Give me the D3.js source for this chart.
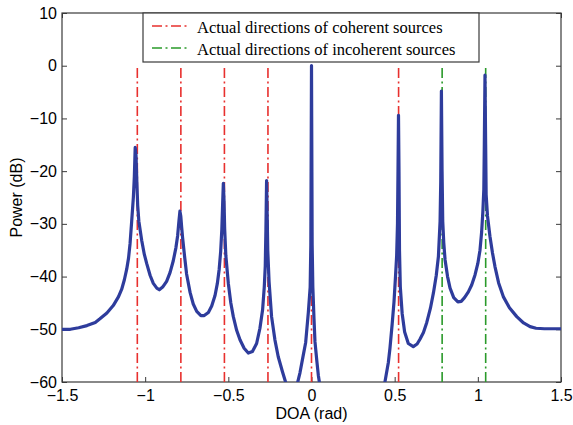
<!DOCTYPE html>
<html>
<head>
<meta charset="utf-8">
<script src="https://cdn.jsdelivr.net/npm/d3@7"></script>
<style>
  html, body { margin: 0; padding: 0; background: #fff; }
  svg { display: block; }
</style>
</head>
<body>
<svg id="chart" width="573" height="425"></svg>
<script>
// ---- data ----
const xTicks = [-1.5, -1, -0.5, 0, 0.5, 1, 1.5];
const yTicks = [-60, -50, -40, -30, -20, -10, 0, 10];
const coherentDOA = [-1.0472, -0.7854, -0.5236, -0.2618, 0, 0.5236];
const incoherentDOA = [0.7854, 1.0472];
const lineTopDB = 0;
const legendLabels = ["Actual directions of coherent sources", "Actual directions of incoherent sources"];

const doaGrid = [
  -1.50, -1.45, -1.40, -1.35, -1.30, -1.272, -1.23, -1.192, -1.16, -1.141, -1.125, -1.111, -1.10, -1.091, -1.081, -1.071, -1.065, -1.060, -1.055, -1.050, -1.045, -1.038, -1.021, -1.005, -0.991, -0.97, -0.951, -0.93, -0.915, -0.895, -0.871, -0.85, -0.831, -0.815, -0.805, -0.797, -0.791, -0.786, -0.781, -0.775, -0.763, -0.751, -0.73, -0.711, -0.69, -0.665, -0.645, -0.62, -0.600, -0.58, -0.566, -0.555, -0.546, -0.539, -0.534, -0.530, -0.526, -0.522, -0.515, -0.500, -0.485, -0.470, -0.45, -0.430, -0.405, -0.380, -0.355, -0.330, -0.31, -0.294, -0.284, -0.278, -0.274, -0.270, -0.266, -0.263, -0.255, -0.240, -0.220, -0.200, -0.175, -0.153, -0.12, -0.10, -0.085, -0.069, -0.050, -0.035, -0.019, -0.008, -0.004, 0.0, 0.004, 0.008, 0.015, 0.021, 0.032, 0.041, 0.052, 0.25, 0.43, 0.442, 0.462, 0.472, 0.485, 0.496, 0.505, 0.512, 0.517, 0.520, 0.523, 0.526, 0.529, 0.534, 0.545, 0.560, 0.582, 0.612, 0.635, 0.652, 0.673, 0.693, 0.715, 0.733, 0.750, 0.763, 0.773, 0.777, 0.781, 0.785, 0.789, 0.795, 0.803, 0.818, 0.833, 0.855, 0.880, 0.900, 0.920, 0.943, 0.963, 0.983, 1.000, 1.013, 1.023, 1.030, 1.036, 1.039, 1.043, 1.047, 1.050, 1.058, 1.073, 1.088, 1.103, 1.125, 1.153, 1.19, 1.234, 1.275, 1.314, 1.35, 1.40, 1.50
];
const powerDB = [
  -50.0, -50.0, -49.7, -49.3, -48.7, -48.0, -46.9, -45.5, -43.8, -42.4, -40.6, -38.6, -36.5, -33.8, -29.5, -25.0, -21.0, -15.5, -17.0, -22.0, -26.5, -29.5, -33.1, -35.8, -37.5, -39.8, -41.3, -42.2, -42.5, -42.0, -40.9, -39.2, -37.0, -34.5, -32.3, -29.5, -27.6, -28.5, -30.5, -32.6, -36.2, -39.5, -43.0, -45.2, -46.6, -47.4, -47.4, -46.8, -45.6, -43.6, -41.3, -38.6, -35.2, -31.0, -26.0, -22.3, -25.5, -31.0, -36.0, -41.3, -45.0, -47.6, -50.2, -52.0, -53.6, -54.5, -54.2, -52.7, -49.8, -46.3, -42.0, -38.0, -31.0, -21.8, -29.0, -35.0, -41.0, -47.6, -52.0, -55.2, -58.0, -60.3, -64.0, -63.0, -60.3, -58.2, -55.0, -52.5, -46.8, -42.0, -34.0, 0.0, -34.0, -42.0, -48.0, -52.4, -56.0, -58.7, -61.0, -75.0, -62.0, -59.9, -56.3, -53.5, -49.0, -44.8, -40.0, -36.0, -30.0, -20.0, -9.4, -20.0, -35.0, -42.0, -47.0, -50.5, -52.7, -53.3, -52.8, -51.9, -50.6, -48.7, -46.0, -43.1, -39.8, -36.2, -29.5, -22.0, -4.8, -20.0, -29.5, -33.5, -36.8, -40.0, -42.2, -44.0, -44.8, -44.7, -44.0, -42.9, -41.6, -39.7, -37.5, -35.0, -31.5, -27.8, -23.5, -15.0, -1.8, -15.0, -24.5, -28.5, -32.4, -35.5, -38.1, -41.2, -43.8, -45.9, -47.6, -48.8, -49.5, -49.8, -49.9, -49.9
];

// ---- layout ----
const svg = d3.select("#chart");
const L = 62, T = 13, R = 561, B = 382;
const x = d3.scaleLinear().domain([-1.5, 1.5]).range([L, R]);
const y = d3.scaleLinear().domain([-60, 10]).range([B, T]);
const fmt = d => (d < 0 ? "\u2212" : "") + Math.abs(d);
const axisColor = "#3a3a3a";
const tickLen = 5;

svg.append("defs").append("clipPath").attr("id", "clip")
  .append("rect").attr("x", L).attr("y", T).attr("width", R - L).attr("height", B - T);

// axes (MATLAB style: inward ticks on all sides)
const gBottom = svg.append("g").attr("transform", `translate(0,${B})`)
  .call(d3.axisBottom(x).tickValues(xTicks).tickFormat(fmt).tickSizeInner(-tickLen).tickSizeOuter(0).tickPadding(7.5));
const gTop = svg.append("g").attr("transform", `translate(0,${T})`)
  .call(d3.axisTop(x).tickValues(xTicks).tickFormat("").tickSizeInner(-tickLen).tickSizeOuter(0));
const gLeft = svg.append("g").attr("transform", `translate(${L},0)`)
  .call(d3.axisLeft(y).tickValues(yTicks).tickFormat(fmt).tickSizeInner(-tickLen).tickSizeOuter(0).tickPadding(5));
const gRight = svg.append("g").attr("transform", `translate(${R},0)`)
  .call(d3.axisRight(y).tickValues(yTicks).tickFormat("").tickSizeInner(-tickLen).tickSizeOuter(0));

[gBottom, gTop, gLeft, gRight].forEach(g => {
  g.selectAll(".domain").remove();
  g.selectAll("line").attr("stroke", axisColor).attr("stroke-width", 1);
  g.selectAll("text").attr("fill", "#000").attr("font-family", "Liberation Sans, Arial, sans-serif").attr("font-size", 16);
});

// frame
svg.append("rect").attr("x", L).attr("y", T).attr("width", R - L).attr("height", B - T)
  .attr("fill", "none").attr("stroke", axisColor).attr("stroke-width", 1.2);

const plot = svg.append("g").attr("clip-path", "url(#clip)");
const dashPat = "10,3.5,2,3.5";

// actual directions
plot.selectAll("line.coh").data(coherentDOA).join("line").attr("class", "coh")
  .attr("x1", d => x(d)).attr("x2", d => x(d))
  .attr("y1", y(-60)).attr("y2", y(lineTopDB))
  .attr("stroke", "#e8302e").attr("stroke-width", 1.6).attr("stroke-dasharray", dashPat);
plot.selectAll("line.inc").data(incoherentDOA).join("line").attr("class", "inc")
  .attr("x1", d => x(d)).attr("x2", d => x(d))
  .attr("y1", y(-60)).attr("y2", y(lineTopDB))
  .attr("stroke", "#2a9a2a").attr("stroke-width", 1.6).attr("stroke-dasharray", dashPat);

// spectrum
const pts = doaGrid.map((d, i) => [d, powerDB[i]]);
plot.append("path").datum(pts)
  .attr("d", d3.line().x(d => x(d[0])).y(d => y(d[1])))
  .attr("fill", "none").attr("stroke", "#2e3c9c").attr("stroke-width", 3.2)
  .attr("stroke-linejoin", "round");

// legend
const lg = svg.append("g");
lg.append("rect").attr("x", 143).attr("y", T).attr("width", 336).attr("height", 49)
  .attr("fill", "#fff").attr("stroke", axisColor).attr("stroke-width", 1.2);
const legendColors = ["#e8302e", "#2a9a2a"];
legendLabels.forEach((lab, i) => {
  const cy = 26 + i * 22;
  lg.append("line").attr("x1", 152).attr("x2", 188).attr("y1", cy).attr("y2", cy)
    .attr("stroke", legendColors[i]).attr("stroke-width", 1.6).attr("stroke-dasharray", dashPat);
  lg.append("text").attr("x", 197).attr("y", cy + 6.5).text(lab)
    .attr("font-family", "Liberation Serif, Times New Roman, serif").attr("font-size", 16.5).attr("fill", "#000");
});

// axis titles
svg.append("text").attr("x", (L + R) / 2).attr("y", 418.5).attr("text-anchor", "middle")
  .attr("font-family", "Liberation Sans, Arial, sans-serif").attr("font-size", 16).text("DOA (rad)");
svg.append("text").attr("transform", `translate(22,${(T + B) / 2}) rotate(-90)`).attr("text-anchor", "middle")
  .attr("font-family", "Liberation Sans, Arial, sans-serif").attr("font-size", 16).text("Power (dB)");
</script>
</body>
</html>
